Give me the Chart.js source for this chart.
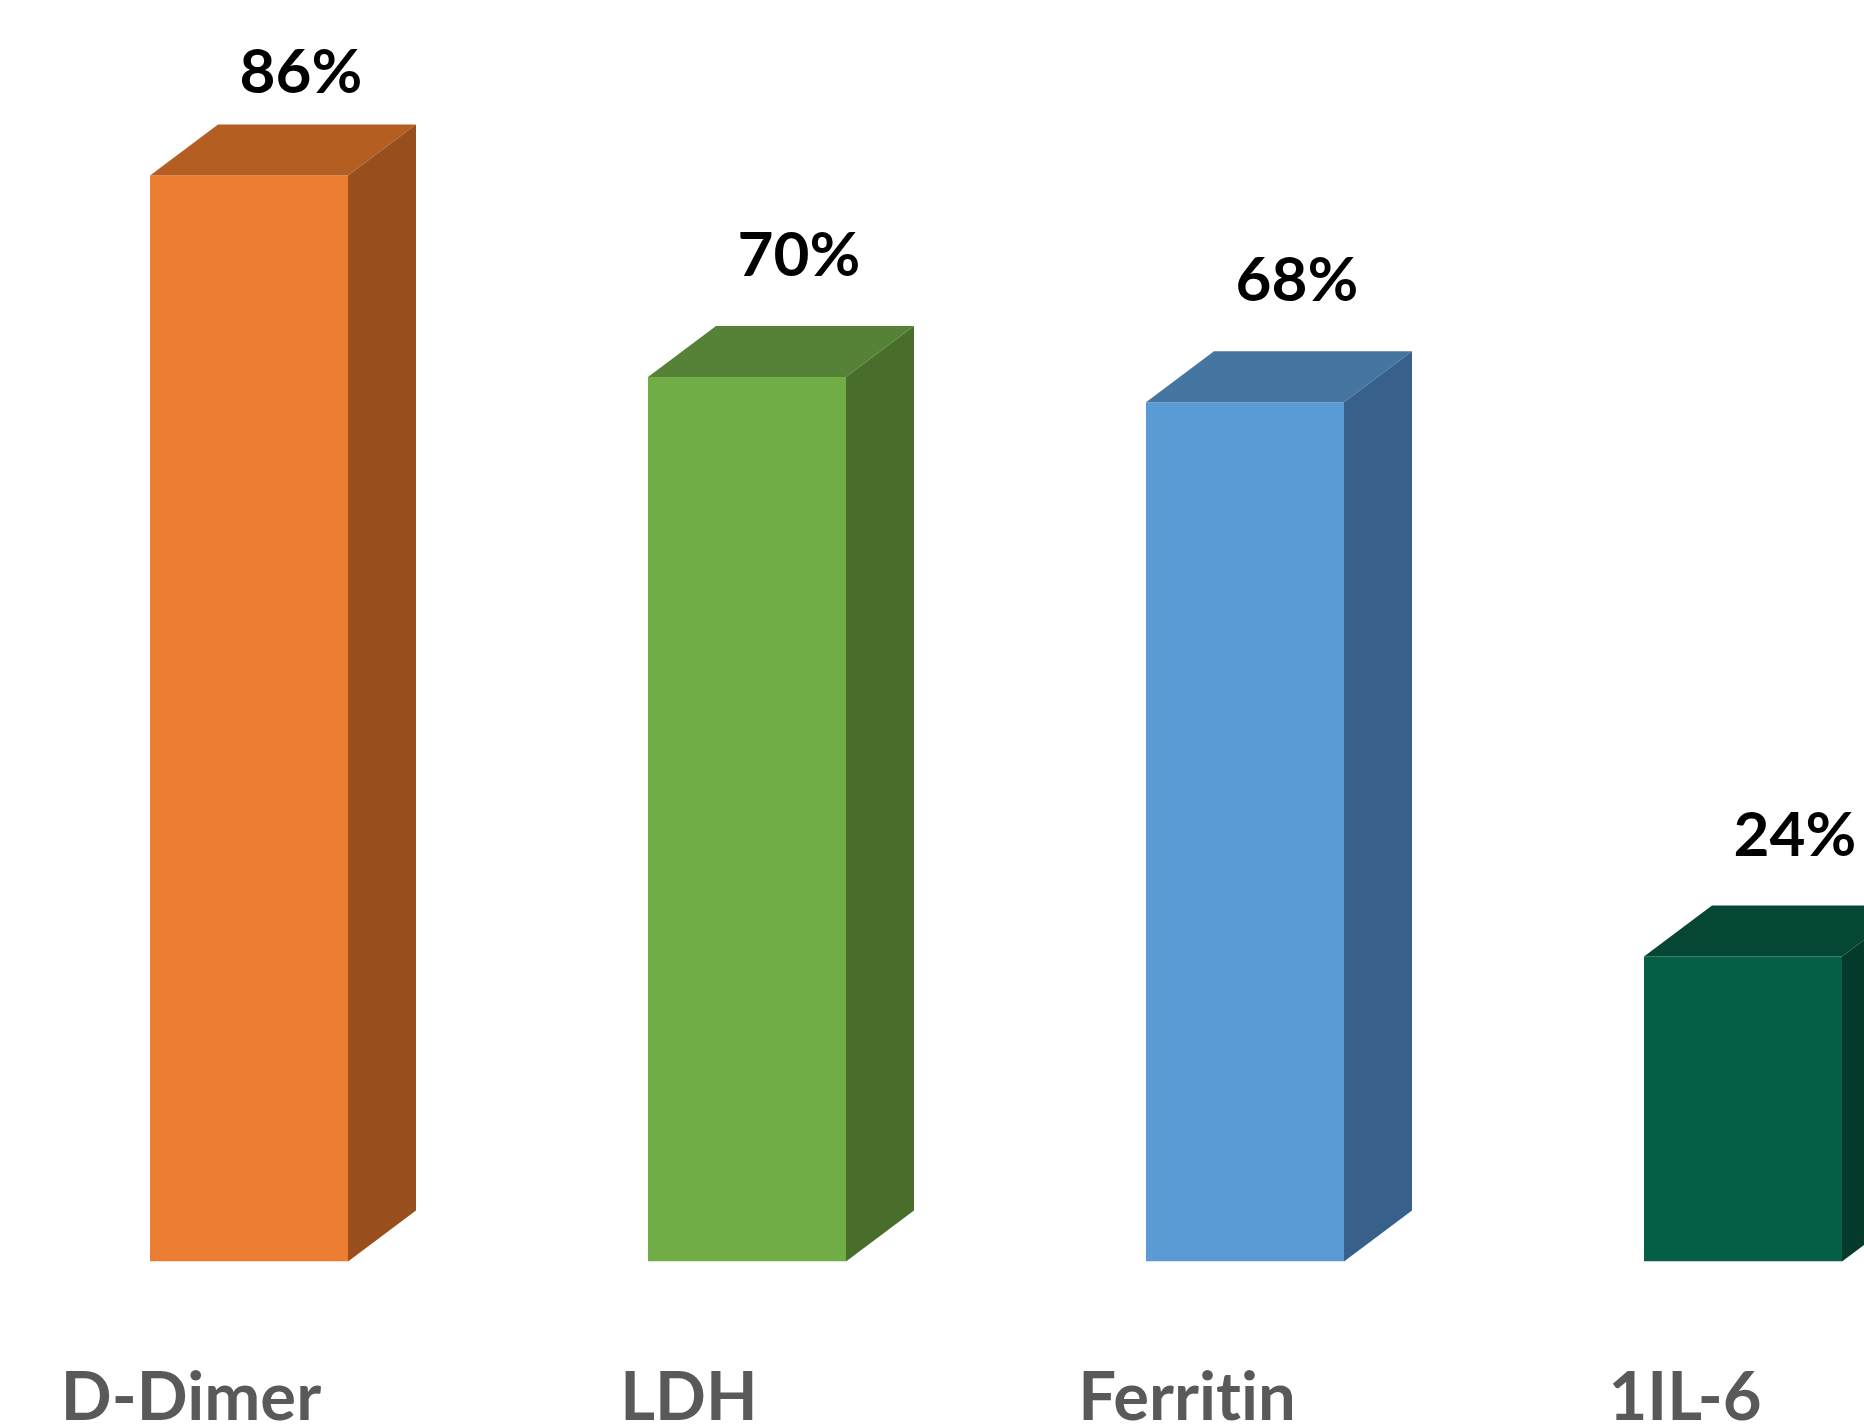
<!DOCTYPE html>
<html>
<head>
<meta charset="utf-8">
<script src="https://cdn.jsdelivr.net/npm/chart.js@4.4.1/dist/chart.umd.min.js"></script>
<style>
  html, body { margin: 0; padding: 0; overflow: hidden; background: #ffffff; width: 1864px; height: 1424px; }
  #wrap { position: absolute; left: 0; top: 0; width: 1992px; height: 1424px; }
</style>
</head>
<body>
<div id="wrap"><canvas id="c" width="1992" height="1424"></canvas></div>
<script>
const categories = ["D-Dimer", "LDH", "Ferritin", "1IL-6"];
const values = [86, 70, 68, 24];
const valueLabels = ["86%", "70%", "68%", "24%"];

const frontColors = ["#ED7D31", "#70AD47", "#5B9BD5", "#055E46"];
const topColors   = ["#B55E22", "#558237", "#4575A1", "#054634"];
const sideColors  = ["#994F1D", "#496E2B", "#37618A", "#033A2B"];

const DX = 68, DY = -51;

const noLigaturePlugin = {
  id: 'noLig',
  beforeDraw(chart) {
    if ('letterSpacing' in chart.ctx) chart.ctx.letterSpacing = '0.01px';
  }
};

const cubePlugin = {
  id: 'cube',
  afterDatasetsDraw(chart) {
    const ctx = chart.ctx;
    const meta = chart.getDatasetMeta(0);
    meta.data.forEach((bar, i) => {
      const p = bar.getProps(['x', 'y', 'base', 'width'], true);
      const l = p.x - p.width / 2, r = p.x + p.width / 2;
      const t = p.y, b = p.base;
      ctx.save();
      ctx.fillStyle = topColors[i];
      ctx.beginPath();
      ctx.moveTo(l, t);
      ctx.lineTo(l + DX, t + DY);
      ctx.lineTo(r + DX, t + DY);
      ctx.lineTo(r, t);
      ctx.closePath();
      ctx.fill();
      ctx.fillStyle = sideColors[i];
      ctx.beginPath();
      ctx.moveTo(r, t);
      ctx.lineTo(r + DX, t + DY);
      ctx.lineTo(r + DX, b + DY);
      ctx.lineTo(r, b);
      ctx.closePath();
      ctx.fill();
      ctx.fillStyle = "#000000";
      ctx.font = "bold 62px Lato, 'Open Sans', sans-serif";
      ctx.textAlign = "center";
      ctx.textBaseline = "alphabetic";
      const ly = Math.max(t - 101, 93);
      ctx.fillText(valueLabels[i], p.x + 52, ly);
      ctx.restore();
    });
  }
};

new Chart(document.getElementById('c'), {
  type: 'bar',
  data: {
    labels: categories,
    datasets: [{
      data: values,
      backgroundColor: frontColors,
      borderWidth: 0,
      base: -0.2,
      barPercentage: 198 / 498,
      categoryPercentage: 1
    }]
  },
  options: {
    responsive: false,
    animation: false,
    events: [],
    layout: { padding: { left: 0, right: 0, top: 2, bottom: 0 } },
    plugins: { legend: { display: false }, tooltip: { enabled: false } },
    scales: {
      x: {
        grid: { display: false, drawTicks: false },
        border: { display: false },
        ticks: {
          color: "#595959",
          font: { family: "Lato, 'Open Sans', sans-serif", size: 67, weight: 'bold' },
          labelOffset: -58,
          padding: 97,
          maxRotation: 0,
          autoSkip: false
        },
        afterFit(scale) { scale.height = 162.5; }
      },
      y: {
        display: false,
        min: -0.2,
        max: 99.76
      }
    }
  },
  plugins: [noLigaturePlugin, cubePlugin]
});
</script>
</body>
</html>
